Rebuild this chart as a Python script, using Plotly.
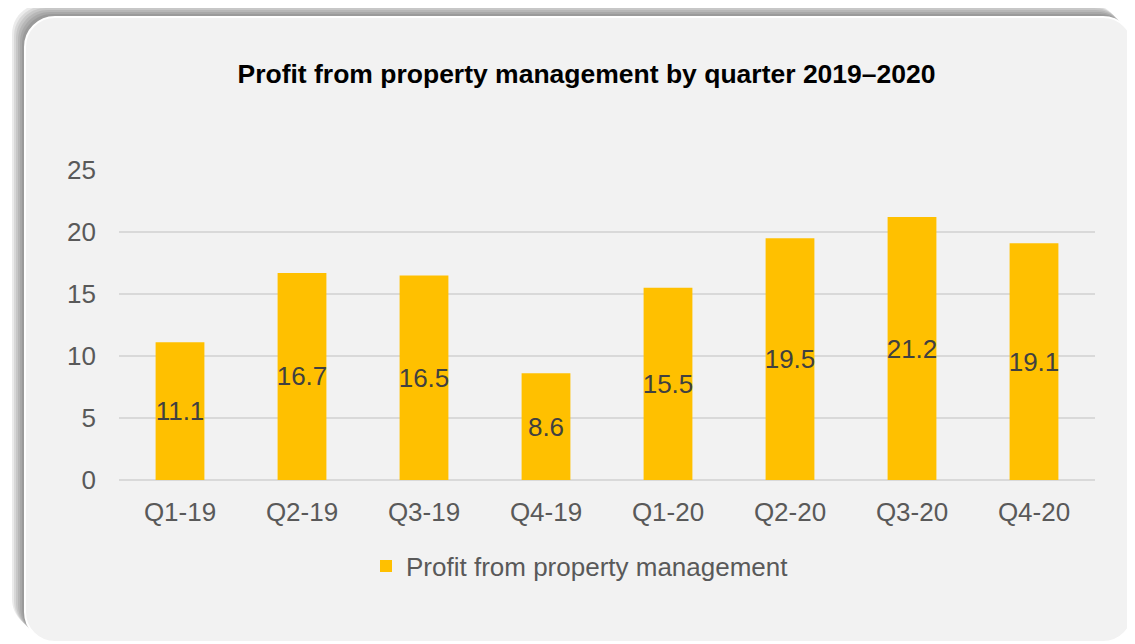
import plotly.graph_objects as go

quarters = ["Q1-19", "Q2-19", "Q3-19", "Q4-19", "Q1-20", "Q2-20", "Q3-20", "Q4-20"]
profit = [11.1, 16.7, 16.5, 8.6, 15.5, 19.5, 21.2, 19.1]
y_ticks = [0, 5, 10, 15, 20, 25]
series_name = "Profit from property management"
title_text = "Profit from property management by quarter 2019–2020"

W, H = 1135, 644
OFF = 8  # page body margin offset
# plot area in screen pixels: x 119..1095, y 170..480
ML = 119 - OFF
MT = 170 - OFF
MR = W - (1095 - OFF)
MB = H - (480 - OFF)
PW, PH = W - ML - MR, H - MT - MB


def to_paper(x, y):
    # x, y are screen pixel positions
    return (x - OFF - ML) / PW, (H - MB - (y - OFF)) / PH


def rounded_rect(x0, y0, x1, y1, r):
    k = 0.5523 * r

    def P(x, y):
        px, py = to_paper(x, y)
        return f"{px:.5f},{py:.5f}"
    d = f"M {P(x0 + r, y0)} L {P(x1 - r, y0)} "
    d += f"C {P(x1 - r + k, y0)} {P(x1, y0 + r - k)} {P(x1, y0 + r)} "
    d += f"L {P(x1, y1 - r)} "
    d += f"C {P(x1, y1 - r + k)} {P(x1 - r + k, y1)} {P(x1 - r, y1)} "
    d += f"L {P(x0 + r, y1)} "
    d += f"C {P(x0 + r - k, y1)} {P(x0, y1 - r + k)} {P(x0, y1 - r)} "
    d += f"L {P(x0, y0 + r)} "
    d += f"C {P(x0, y0 + r - k)} {P(x0 + r - k, y0)} {P(x0 + r, y0)} Z"
    return d


shapes = []
for off in [13, 11, 9, 7, 5, 3]:
    shapes.append(dict(type="path", xref="paper", yref="paper", layer="below",
                       path=rounded_rect(25 - off, 17 - off, 1133 - off, 642 - off, 30),
                       fillcolor="rgba(0,0,0,0.08)", line=dict(width=0)))
shapes.append(dict(type="path", xref="paper", yref="paper", layer="below",
                   path=rounded_rect(25, 17, 1133, 642, 30),
                   fillcolor="#f2f2f2", line=dict(color="white", width=2)))

fig = go.Figure()
fig.add_trace(go.Bar(
    x=quarters, y=profit, name=series_name,
    marker=dict(color="#ffc000", line=dict(width=0)),
    width=0.4,
    text=[f"{v:.1f}" for v in profit],
    textposition="inside", insidetextanchor="middle",
    constraintext="none", textangle=0,
    textfont=dict(family="Liberation Sans, Arial", size=26, color="#404040"),
    showlegend=True,
))

fig.update_layout(
    width=W, height=H,
    margin=dict(l=ML, r=MR, t=MT, b=MB),
    paper_bgcolor="white", plot_bgcolor="rgba(0,0,0,0)",
    font=dict(family="Liberation Sans, Arial", size=26, color="#595959"),
    title=dict(text=f"<b>{title_text}</b>", x=(586.5 - OFF) / W, xanchor="center",
               xref="container", y=1 - (74 - OFF) / H, yanchor="middle", yref="container",
               font=dict(family="Liberation Sans, Arial", size=26.5, color="black")),
    shapes=shapes,
    uniformtext=dict(mode="show", minsize=26),
    showlegend=True,
    legend=dict(orientation="h", x=to_paper(366, 0)[0], xanchor="left",
                y=to_paper(0, 566)[1], yanchor="middle",
                bgcolor="rgba(0,0,0,0)",
                font=dict(family="Liberation Sans, Arial", size=26, color="#595959")),
    bargap=0.6,
)
fig.update_xaxes(showgrid=False, showline=False, ticks="", zeroline=False,
                 tickfont=dict(size=26, color="#595959"), ticklabelstandoff=14)
fig.update_yaxes(range=[0, 25], tickvals=y_ticks, showgrid=True, gridcolor="#d9d9d9",
                 gridwidth=1.5, zeroline=True, zerolinecolor="#d9d9d9", zerolinewidth=1.5,
                 showline=False, ticks="", ticklabelstandoff=22,
                 tickfont=dict(size=26, color="#595959"))

fig.write_html("out.html")
